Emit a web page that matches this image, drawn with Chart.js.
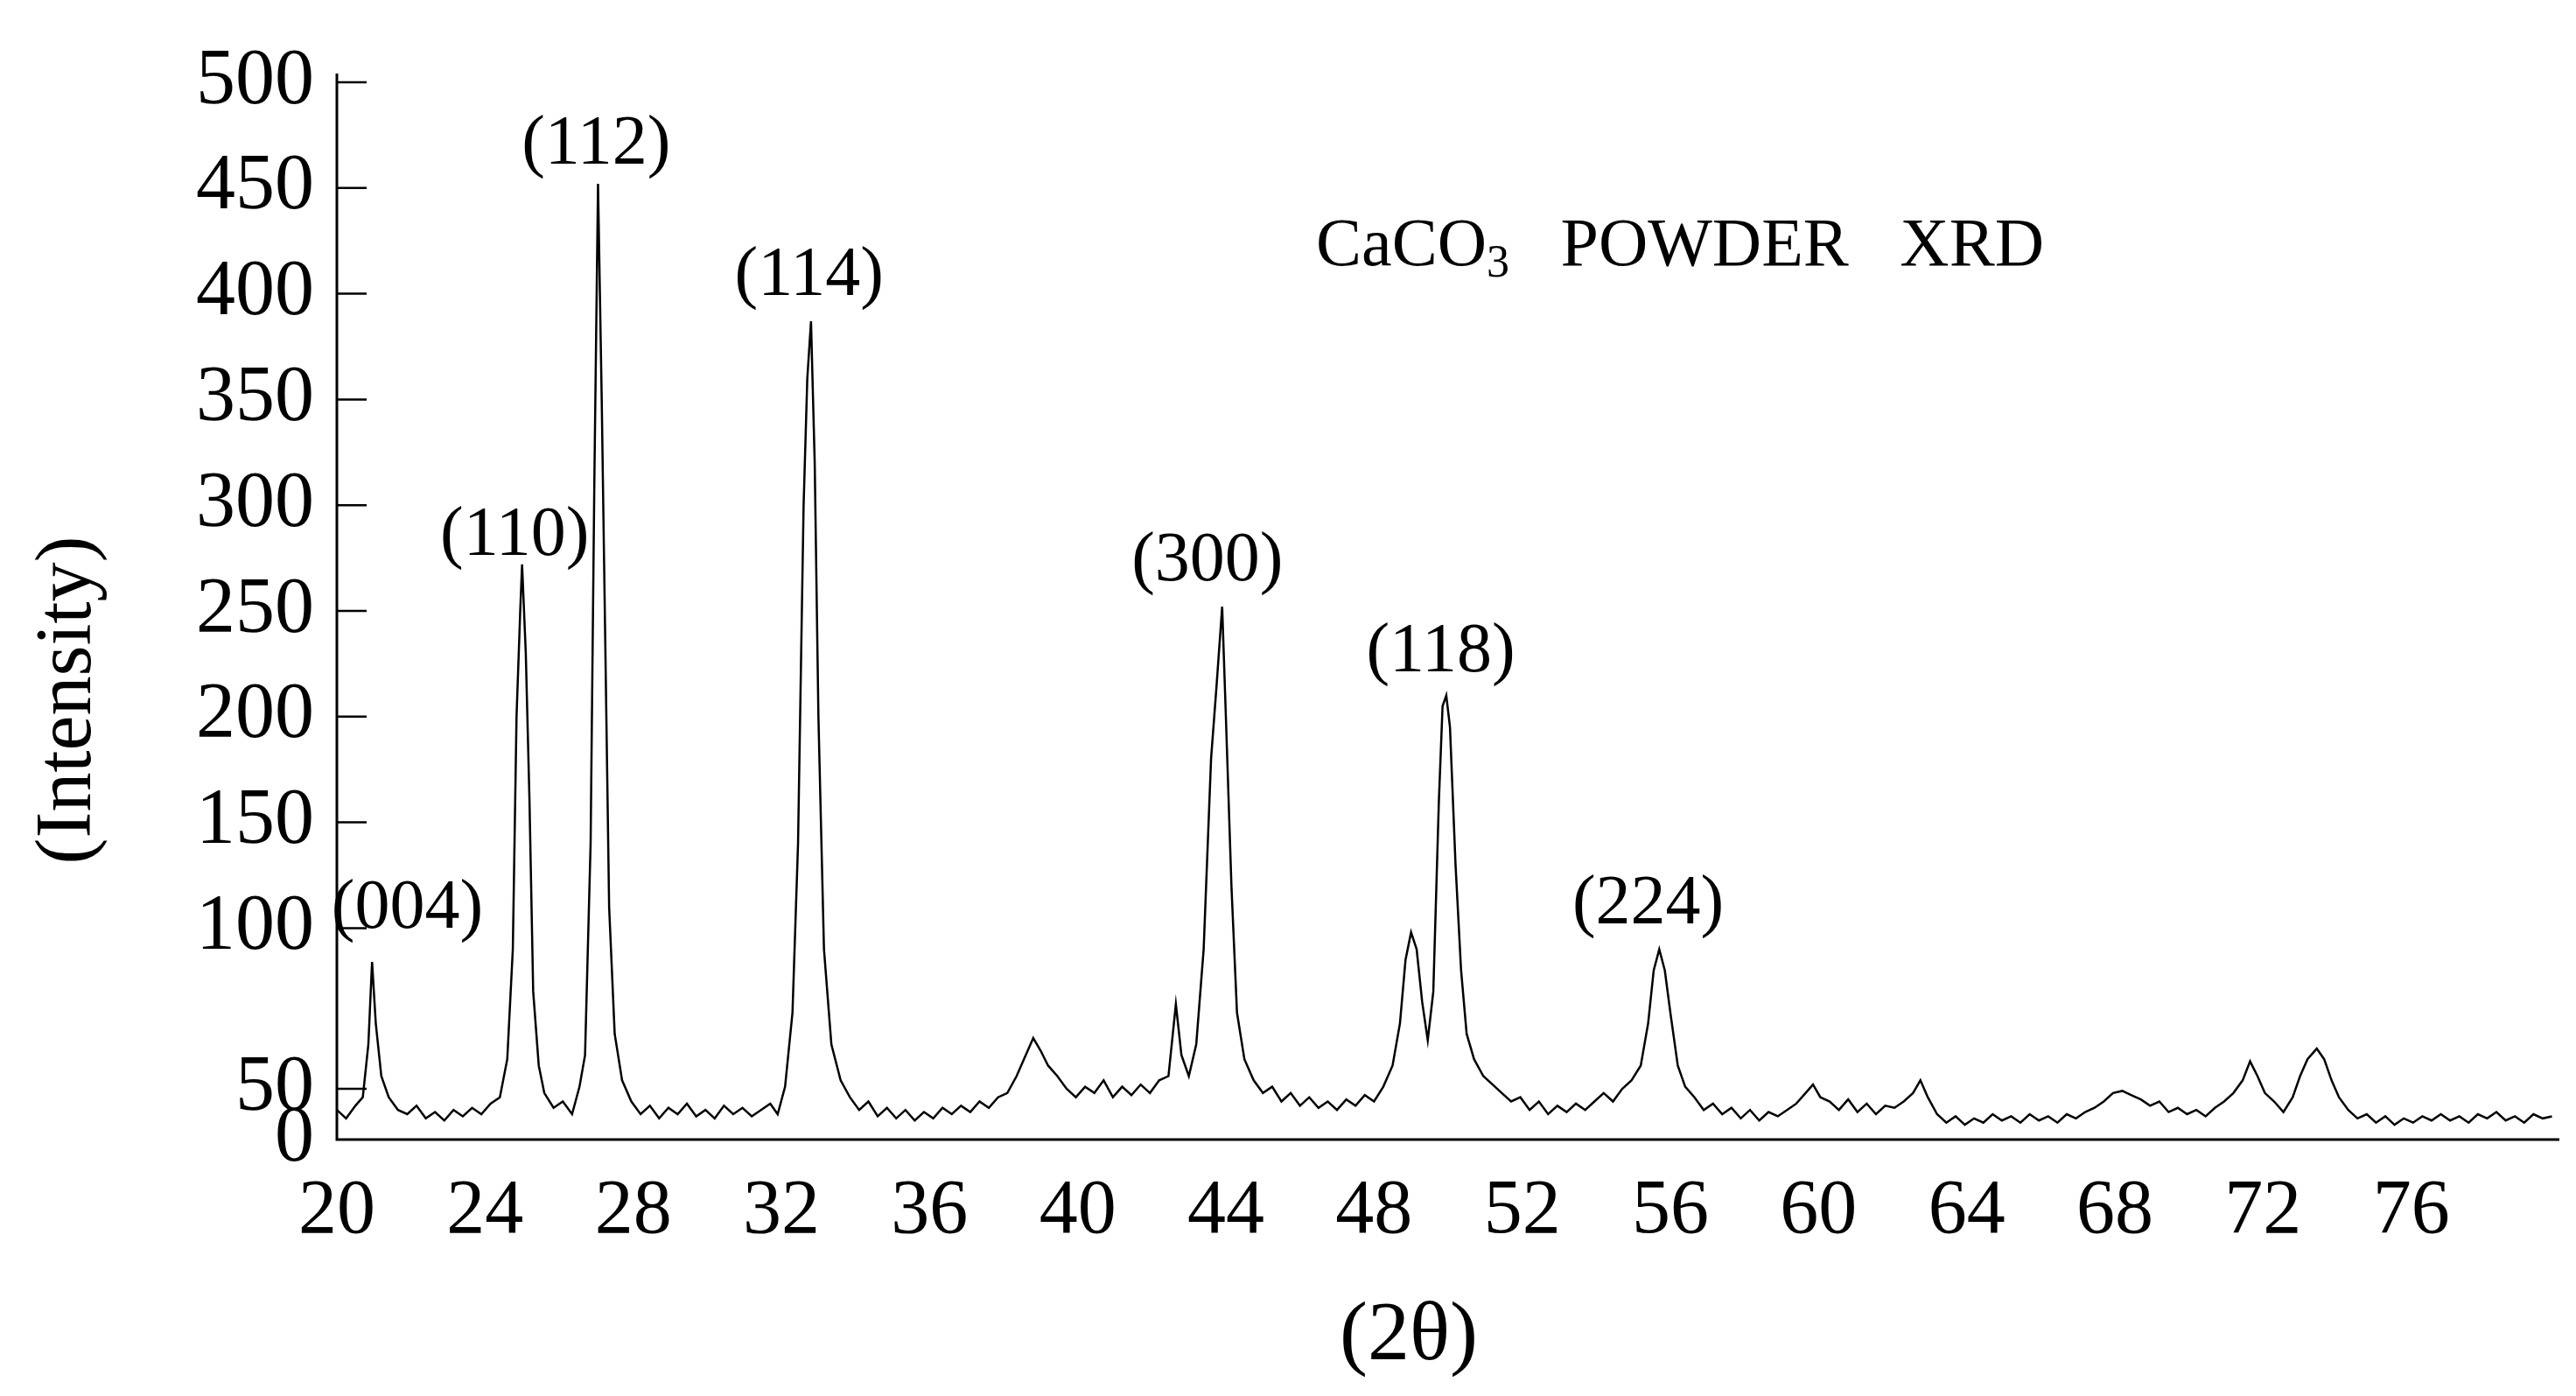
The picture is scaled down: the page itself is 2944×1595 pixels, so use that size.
<!DOCTYPE html>
<html><head><meta charset="utf-8">
<script src="https://cdn.jsdelivr.net/npm/chart.js@4"></script>
<style>html,body{margin:0;padding:0;background:#fff}#w{width:2944px;height:1595px}</style>
</head><body><div id="w"><canvas id="c"></canvas></div>
<script>
const angles = [20.0,20.25,20.5,20.7,20.85,20.95,21.05,21.2,21.4,21.65,21.9,22.15,22.4,22.65,22.9,23.15,23.4,23.65,23.9,24.15,24.4,24.6,24.75,24.85,24.95,25.0,25.1,25.2,25.3,25.45,25.6,25.85,26.1,26.35,26.55,26.7,26.85,26.95,27.05,27.15,27.25,27.35,27.5,27.7,27.95,28.2,28.45,28.7,28.95,29.2,29.45,29.7,29.95,30.2,30.45,30.7,30.95,31.2,31.45,31.7,31.9,32.1,32.3,32.45,32.6,32.7,32.8,32.9,33.0,33.15,33.35,33.6,33.85,34.1,34.35,34.6,34.85,35.1,35.35,35.6,35.85,36.1,36.35,36.6,36.85,37.1,37.35,37.6,37.85,38.1,38.35,38.6,38.8,39.0,39.2,39.45,39.7,39.95,40.2,40.45,40.7,40.95,41.2,41.45,41.7,41.95,42.2,42.45,42.65,42.8,43.0,43.2,43.4,43.6,43.75,43.9,44.0,44.15,44.3,44.5,44.75,45.0,45.25,45.5,45.75,46.0,46.25,46.5,46.75,47.0,47.25,47.5,47.75,48.0,48.25,48.5,48.7,48.85,49.0,49.15,49.3,49.45,49.6,49.75,49.85,49.95,50.05,50.2,50.35,50.5,50.7,50.95,51.2,51.45,51.7,51.95,52.2,52.45,52.7,52.95,53.2,53.45,53.7,53.95,54.2,54.45,54.7,54.95,55.2,55.4,55.55,55.7,55.85,56.0,56.2,56.4,56.65,56.9,57.15,57.4,57.65,57.9,58.15,58.4,58.65,58.9,59.15,59.4,59.65,59.85,60.05,60.3,60.55,60.8,61.05,61.3,61.55,61.8,62.05,62.3,62.55,62.75,62.95,63.2,63.45,63.7,63.95,64.2,64.45,64.7,64.95,65.2,65.45,65.7,65.95,66.2,66.45,66.7,66.95,67.2,67.45,67.7,67.95,68.2,68.45,68.7,68.95,69.2,69.45,69.7,69.95,70.2,70.45,70.7,70.95,71.2,71.45,71.65,71.85,72.05,72.3,72.55,72.8,73.0,73.2,73.45,73.65,73.85,74.05,74.3,74.55,74.8,75.05,75.3,75.55,75.8,76.05,76.3,76.55,76.8,77.05,77.3,77.55,77.8,78.05,78.3,78.55,78.8,79.05,79.3,79.55,79.8];
const intensity = [14,10,16,20,45,84,55,30,20,14,12,16,10,13,9,14,11,15,12,17,20,38,90,200,250,272,230,160,70,35,22,15,18,12,25,40,140,310,452,350,230,110,50,28,18,12,16,10,15,12,17,11,14,10,16,12,15,11,14,17,12,25,60,140,300,360,387,320,200,90,45,28,20,14,18,11,15,10,14,9,13,10,15,12,16,13,18,15,20,22,30,40,48,42,35,30,24,20,25,22,28,20,25,21,26,22,28,30,64,40,30,45,90,180,215,252,200,120,60,38,28,22,25,18,22,16,20,15,18,14,19,16,21,18,25,35,55,85,98,90,65,47,70,160,205,210,195,130,80,50,38,30,26,22,18,20,14,18,12,16,13,17,14,18,22,18,24,28,35,55,80,90,80,60,35,25,20,14,17,12,15,10,14,9,13,11,14,17,22,26,20,18,14,19,13,17,12,16,15,18,22,28,20,12,8,11,7,10,8,12,9,11,8,12,9,11,8,12,10,13,15,18,22,23,21,19,16,18,13,15,12,14,11,15,18,22,28,37,30,22,18,13,20,30,38,43,38,28,20,14,10,12,8,11,7,10,8,11,9,12,9,11,8,12,10,13,9,11,8,12,10,11];
const xTickValues = [20,24,28,32,36,40,44,48,52,56,60,64,68,72,76];
const yTickValues = [0,24,100,150,200,250,300,350,400,450,500];
const yTickLabels = ['0','50','100','150','200','250','300','350','400','450','500'];
const peakNames = ['(004)','(110)','(112)','(114)','(300)','(118)','(224)'];
const peakX = [21.9,24.8,27.0,32.75,43.5,49.8,55.4];
const peakY = [109,285,470,408,273,230,111];
const FONT = '"Liberation Serif", "Times New Roman", serif';

const deco = {
  id:'deco',
  afterDraw(ch){
    const c=ch.ctx, x=ch.scales.x, y=ch.scales.y;
    c.save();
    c.strokeStyle='#000'; c.lineWidth=3;
    c.beginPath(); c.moveTo(x.left,y.top-10); c.lineTo(x.left,y.bottom); c.lineTo(x.right,y.bottom); c.stroke();
    c.lineWidth=2.5;
    yTickValues.forEach(v=>{ if(v===0) return; const py=y.getPixelForValue(v); c.beginPath(); c.moveTo(x.left,py); c.lineTo(x.left+34,py); c.stroke(); });
    c.fillStyle='#000'; c.textAlign='center'; c.textBaseline='middle';
    c.font='80px '+FONT;
    peakNames.forEach((n,i)=>c.fillText(n,x.getPixelForValue(peakX[i]),y.getPixelForValue(peakY[i])));
    c.textAlign='left';
    const tx=1504, ty=y.getPixelForValue(422);
    c.font='78px '+FONT;
    c.fillText('CaCO',tx,ty); let w=c.measureText('CaCO').width;
    c.font='52px '+FONT; c.fillText('3',tx+w,ty+20); w+=c.measureText('3').width;
    c.font='78px '+FONT; c.fillText('   POWDER   XRD',tx+w,ty);
    c.textAlign='center'; c.font='96px '+FONT;
    c.fillText('(2θ)',1610,1528);
    c.font='90px '+FONT;
    c.translate(79,800); c.rotate(-Math.PI/2); c.fillText('(Intensity)',0,0);
    c.restore();
  }
};

new Chart(document.getElementById('c'),{
  type:'line',
  data:{datasets:[{data:angles.map((a,i)=>({x:a,y:intensity[i]})),borderColor:'#000',borderWidth:2.5,pointRadius:0,tension:0,fill:false}]},
  options:{
    responsive:true,maintainAspectRatio:false,animation:false,devicePixelRatio:1,
    layout:{padding:{top:94,right:19,left:0,bottom:0}},
    plugins:{legend:{display:false},tooltip:{enabled:false}},
    scales:{
      x:{type:'linear',min:20,max:80,
        afterBuildTicks:s=>{s.ticks=xTickValues.map(v=>({value:v}));},
        afterFit:s=>{s.height=293;},
        grid:{display:false,drawTicks:false},border:{display:false},
        ticks:{padding:30,color:'#000',font:{family:FONT,size:88},maxRotation:0,autoSkip:false}},
      y:{type:'linear',min:0,max:500,
        afterBuildTicks:s=>{s.ticks=yTickValues.map(v=>({value:v}));},
        afterFit:s=>{s.width=385;},
        grid:{display:false,drawTicks:false},border:{display:false},
        ticks:{padding:26,color:'#000',font:{family:FONT,size:90},autoSkip:false,
          callback:(v)=>{const i=yTickValues.indexOf(v);return i>=0?yTickLabels[i]:'';}}}
    }
  },
  plugins:[deco]
});
</script></body></html>
